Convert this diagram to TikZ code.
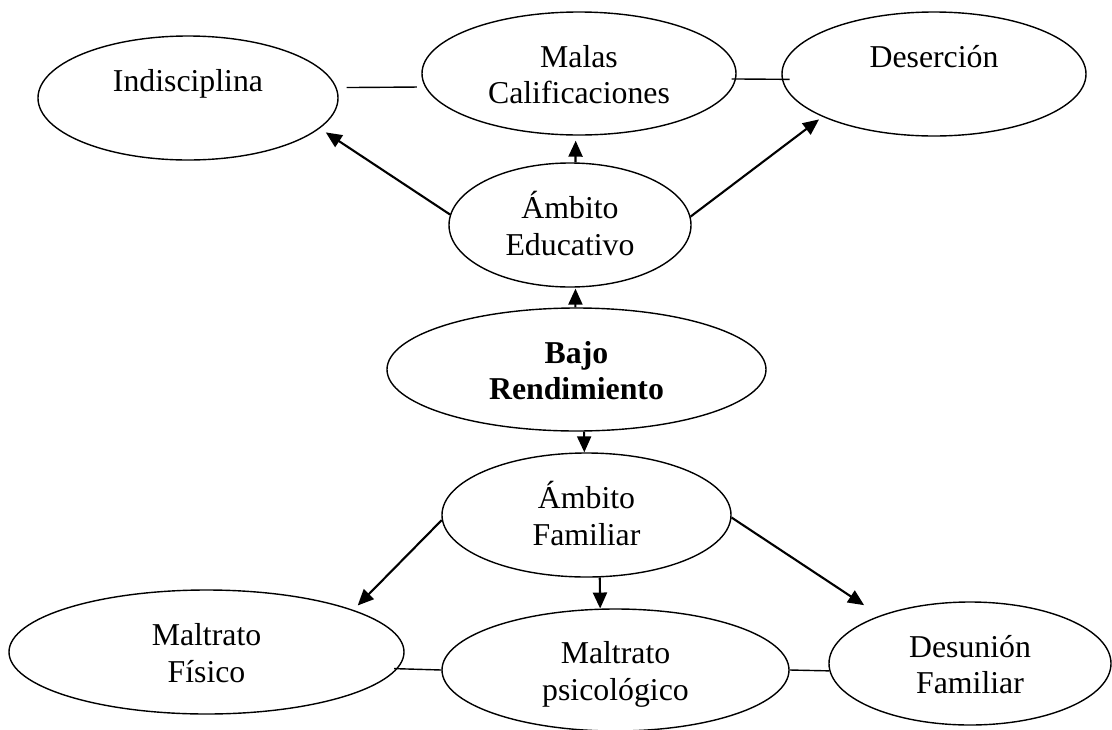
\documentclass[tikz,border=0pt]{standalone}
\usepackage{fontspec}
\setmainfont{Liberation Serif}
\usetikzlibrary{shapes.geometric,arrows.meta}
\newcommand{\etxt}[1]{\raisebox{0pt}[20pt][33pt]{\begin{tabular}[t]{@{}c@{}}#1\end{tabular}}}
\begin{document}
\begin{tikzpicture}[x=1pt,y=-1pt,
  oval/.style={ellipse,draw,line width=1.4pt,inner sep=0pt,
    font=\fontsize{31.8}{36.5}\selectfont},
  arr/.style={-{Triangle[length=16pt,width=14pt]},line width=2.1pt},
  link/.style={line width=1.4pt}]
\useasboundingbox (0,0) rectangle (1112,729);

\node[oval,minimum width=300pt,minimum height=124pt] (indis) at (188,98) {\etxt{Indisciplina}};
\node[oval,minimum width=314pt,minimum height=123pt] (malas) at (579,73.5) {\etxt{Malas\\Calificaciones}};
\node[oval,minimum width=304pt,minimum height=124pt] (deser) at (934,74) {\etxt{Deserción}};
\node[oval,minimum width=242pt,minimum height=124pt] (ambed) at (570,225) {\etxt{Ámbito\\Educativo}};
\node[oval,minimum width=379pt,minimum height=123pt] (bajo) at (576.5,369.5) {\etxt{\bfseries Bajo\\\bfseries Rendimiento}};
\node[oval,minimum width=289pt,minimum height=124pt] (ambfam) at (586.5,515) {\etxt{Ámbito\\Familiar}};
\node[oval,minimum width=395pt,minimum height=124pt] (fisico) at (206.5,652) {\etxt{Maltrato\\Físico}};
\node[oval,minimum width=347pt,minimum height=122pt] (psico) at (615.5,670) {\etxt{Maltrato\\psicológico}};
\node[oval,minimum width=282pt,minimum height=123pt] (desun) at (970,663.5) {\etxt{Desunión\\Familiar}};

% arrows
\draw[arr,shorten >=7.2pt] (ambed.175.2) -- (indis.-13.05);
\draw[arr,shorten >=5pt] (ambed.85.4) -- (malas.-93.4);
\draw[arr,shorten >=4.3pt] (ambed.4.27) -- (deser.-159.8);
\draw[arr,shorten >=1pt] (bajo.91.4) -- (ambed.-85.5);
\draw[arr] (bajo.-83) -- (ambfam.92.3);
\draw[arr,shorten >=6.2pt] (ambfam.-178) -- (fisico.16.3);
\draw[arr] (ambfam.-78.6) -- (psico.104.9);
\draw[arr,shorten >=18.8pt] (ambfam.-1.6) -- (desun.152.8);

% plain links
\draw[link,shorten <=10pt,shorten >=8.3pt] (indis.4.66) -- (malas.-175.35);
\draw[link,shorten <=-4.4pt,shorten >=-7.8pt] (malas.-2) -- (deser.-178.87);
\draw[link,shorten <=-3.5pt] (fisico.-5.44) -- (psico.180);
\draw[link] (psico.0) -- (desun.-177.76);
\end{tikzpicture}
\end{document}
